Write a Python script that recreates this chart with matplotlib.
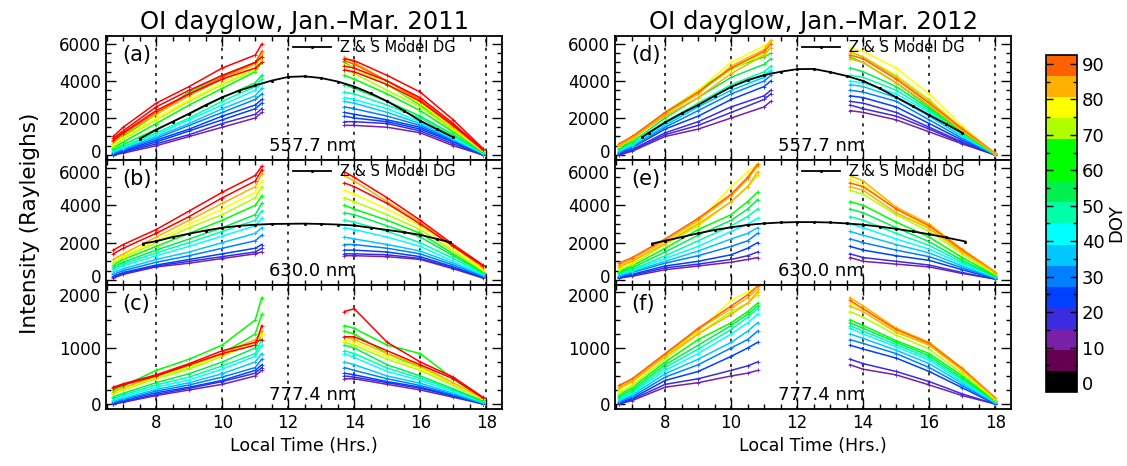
import numpy as np
import matplotlib.pyplot as plt
from matplotlib.colors import ListedColormap, BoundaryNorm
from matplotlib.cm import ScalarMappable
from matplotlib.ticker import MultipleLocator
from matplotlib.transforms import ScaledTranslation

# DOY colour table (16 bands, bottom to top) and out-of-range colour
BAND_COLORS = ['#000000', '#640050', '#7820A8', '#3C2CE0', '#0040FF', '#0080FF',
               '#00C8FF', '#00FFFF', '#00FFA8', '#00F050', '#00FF00', '#00FF00',
               '#B0FF00', '#FFFF00', '#FFB000', '#FF6000']
OVER_COLOR = '#FF0000'

# sample times (hours local time)
T11_AM = [6.7, 7.0, 8.0, 9.0, 10.0, 11.0, 11.2]
T11_PM = [13.7, 14.0, 15.0, 16.0, 17.0, 17.9]
T12_AM_D = [6.6, 7.0, 8.0, 9.0, 10.0, 11.0, 11.2]
T12_AM_EF = [6.6, 7.0, 8.0, 9.0, 10.0, 10.5, 10.8]
T12_PM = [13.6, 14.0, 15.0, 16.0, 17.0, 18.0]

# ---- panel (a) 2011, 557.7 nm
A_DOY = [12, 18, 24, 27, 30, 36, 42, 48, 54, 60, 65, 71, 77, 83, 89, 95, 95, 95]
A_AM = [[0, 100, 500, 1000, 1500, 2000, 2300],
        [0, 150, 600, 1100, 1700, 2200, 2500],
        [50, 200, 700, 1300, 1900, 2500, 2800],
        [80, 250, 800, 1400, 2100, 2700, 3000],
        [100, 300, 900, 1600, 2300, 3000, 3300],
        [150, 350, 1000, 1700, 2500, 3200, 3600],
        [200, 400, 1100, 1900, 2700, 3500, 3900],
        [250, 450, 1200, 2000, 2900, 3700, 4100],
        [300, 550, 1400, 2200, 3100, 3900, 4300],
        [400, 700, 1700, 2700, 3600, 4500, 5000],
        [600, 1000, 2200, 3400, 4300, 5000, 5500],
        [500, 850, 1900, 2900, 3800, 4600, 5100],
        [600, 950, 2000, 3000, 3900, 4700, 5200],
        [700, 1100, 2200, 3200, 4100, 4900, 5500],
        [750, 1150, 2300, 3300, 4200, 5000, 5600],
        [900, 1300, 2600, 3500, 4300, 5000, 5300],
        [1000, 1500, 2800, 3700, 4700, 5400, 6000],
        [800, 1200, 2400, 3300, 4100, 4700, 5000]]
A_PM = [[1600, 1600, 1500, 1200, 500, 0],
        [1800, 1800, 1700, 1300, 600, 0],
        [2100, 2000, 1800, 1400, 700, 0],
        [2300, 2200, 1900, 1500, 750, 50],
        [2600, 2500, 2100, 1600, 800, 50],
        [2900, 2800, 2300, 1700, 850, 80],
        [3100, 3000, 2500, 1800, 900, 100],
        [3400, 3300, 2700, 2000, 1000, 120],
        [3800, 3600, 2900, 2100, 1100, 150],
        [4300, 4100, 3300, 2400, 1250, 180],
        [5000, 4700, 3800, 2700, 1400, 200],
        [4600, 4400, 3500, 2600, 1350, 200],
        [4900, 4700, 3800, 2800, 1450, 220],
        [5300, 5000, 4000, 2900, 1500, 250],
        [5100, 4900, 4000, 3000, 1600, 250],
        [4800, 4700, 4000, 3100, 1700, 300],
        [5200, 5100, 4300, 3400, 1900, 350],
        [4600, 4500, 3800, 2900, 1600, 300]]

# ---- panel (b) 2011, 630.0 nm
B_DOY = [12, 18, 24, 30, 36, 42, 48, 54, 60, 71, 77, 83, 95, 95]
B_AM = [[100, 300, 700, 900, 1150, 1400, 1500],
        [150, 350, 750, 1000, 1250, 1500, 1700],
        [200, 400, 800, 1100, 1400, 1700, 1900],
        [300, 500, 950, 1300, 1700, 2100, 2400],
        [400, 600, 1100, 1500, 2000, 2500, 2800],
        [500, 750, 1300, 1800, 2350, 2900, 3300],
        [600, 850, 1450, 2000, 2600, 3200, 3700],
        [700, 950, 1600, 2200, 2800, 3500, 4100],
        [800, 1100, 1800, 2500, 3200, 4000, 4500],
        [900, 1200, 2000, 2800, 3500, 4400, 5000],
        [1000, 1300, 2100, 3000, 3800, 4700, 5300],
        [1100, 1400, 2300, 3200, 4100, 5000, 5700],
        [1400, 1700, 2500, 3400, 4400, 5300, 5900],
        [1600, 1900, 2700, 3700, 4700, 5600, 6100]]
B_PM = [[1300, 1300, 1250, 1100, 600, 100],
        [1400, 1400, 1350, 1150, 650, 150],
        [1600, 1600, 1500, 1250, 700, 150],
        [1900, 1900, 1700, 1400, 800, 200],
        [2300, 2200, 1900, 1550, 900, 250],
        [2800, 2700, 2300, 1800, 1000, 300],
        [3200, 3100, 2600, 2000, 1150, 350],
        [3600, 3500, 2900, 2300, 1300, 400],
        [4000, 3800, 3200, 2500, 1400, 450],
        [4400, 4200, 3500, 2700, 1550, 500],
        [4800, 4600, 3800, 2900, 1650, 550],
        [5600, 5300, 4200, 3100, 1800, 650],
        [5800, 5500, 4400, 3200, 1900, 800],
        [5200, 5000, 4100, 3000, 1800, 750]]

# ---- panel (c) 2011, 777.4 nm
C_DOY = [12, 18, 24, 30, 36, 42, 48, 54, 60, 65, 71, 77, 83, 95, 95]
C_AM = [[0, 30, 150, 250, 350, 500, 600],
        [0, 40, 170, 280, 400, 550, 650],
        [10, 60, 200, 300, 420, 600, 700],
        [30, 80, 230, 340, 480, 650, 800],
        [50, 100, 260, 380, 540, 750, 900],
        [70, 130, 300, 430, 620, 850, 1050],
        [100, 160, 340, 480, 680, 900, 1150],
        [130, 190, 380, 540, 750, 1000, 1250],
        [200, 270, 480, 650, 900, 1250, 1600],
        [250, 320, 600, 800, 1050, 1500, 1900],
        [180, 250, 450, 620, 850, 1100, 1250],
        [200, 270, 480, 660, 880, 1100, 1250],
        [220, 290, 500, 690, 900, 1150, 1300],
        [300, 360, 520, 720, 950, 1100, 1150],
        [280, 340, 500, 700, 900, 1050, 1400]]
C_PM = [[450, 450, 350, 250, 120, 0],
        [500, 480, 380, 280, 140, 0],
        [550, 520, 400, 300, 150, 0],
        [650, 600, 450, 330, 170, 10],
        [750, 700, 500, 370, 190, 20],
        [900, 830, 580, 420, 220, 30],
        [950, 900, 640, 460, 250, 40],
        [1050, 1000, 700, 500, 270, 50],
        [1300, 1250, 900, 650, 350, 70],
        [1400, 1350, 1050, 900, 450, 90],
        [1100, 1050, 800, 600, 330, 80],
        [1150, 1100, 850, 640, 360, 90],
        [1200, 1150, 900, 680, 380, 100],
        [1650, 1700, 1100, 750, 480, 120],
        [1200, 1200, 950, 700, 450, 110]]

# ---- panel (d) 2012, 557.7 nm
D_DOY = [12, 16, 20, 26, 31, 36, 42, 48, 54, 60, 71, 77, 83, 88, 85]
D_AM = [[0, 200, 1000, 1400, 2000, 2600, 2900],
        [0, 250, 1100, 1600, 2300, 3000, 3300],
        [50, 300, 1200, 1800, 2600, 3200, 3500],
        [100, 400, 1400, 2100, 3000, 3700, 4000],
        [150, 450, 1500, 2400, 3300, 4000, 4300],
        [200, 500, 1600, 2600, 3500, 4200, 4500],
        [250, 550, 1700, 2700, 3700, 4300, 4600],
        [300, 600, 1800, 2800, 3800, 4500, 4800],
        [350, 700, 2000, 3100, 4200, 4900, 5200],
        [400, 800, 2300, 3500, 4700, 5300, 5500],
        [450, 850, 2200, 3400, 4600, 5500, 5800],
        [500, 900, 2300, 3500, 5000, 5900, 6100],
        [550, 950, 2200, 3300, 4800, 5700, 6200],
        [600, 1000, 2300, 3400, 4700, 5600, 6000],
        [500, 900, 2100, 3100, 4400, 5400, 5800]]
D_PM = [[2400, 2300, 1900, 1250, 600, 0],
        [2700, 2500, 2100, 1400, 650, 0],
        [2900, 2800, 2300, 1500, 700, 0],
        [3200, 3100, 2600, 1700, 800, 0],
        [3500, 3400, 2900, 1900, 900, 10],
        [3800, 3700, 3100, 2100, 1000, 20],
        [4000, 3900, 3300, 2300, 1050, 30],
        [4300, 4200, 3500, 2400, 1100, 40],
        [4700, 4500, 3700, 2500, 1200, 50],
        [5300, 5000, 3900, 2600, 1250, 60],
        [5500, 5300, 4300, 3000, 1400, 70],
        [5800, 5600, 4700, 3300, 1550, 80],
        [5600, 5300, 4200, 2900, 1450, 90],
        [5400, 5200, 4100, 2800, 1400, 90],
        [5200, 5000, 3900, 2700, 1300, 80]]

# ---- panel (e) 2012, 630.0 nm
E_DOY = [12, 17, 22, 30, 36, 42, 48, 55, 62, 71, 77, 83, 88, 85]
E_AM = [[100, 200, 550, 750, 950, 1100, 1200],
        [100, 250, 650, 850, 1100, 1300, 1500],
        [150, 300, 750, 1000, 1350, 1700, 2000],
        [200, 400, 900, 1300, 1800, 2100, 2500],
        [250, 450, 1000, 1550, 2200, 2500, 2800],
        [300, 500, 1150, 1800, 2600, 3000, 3300],
        [350, 550, 1300, 2100, 2900, 3400, 3800],
        [400, 650, 1500, 2400, 3200, 3800, 4300],
        [450, 750, 1700, 2700, 3500, 4200, 4700],
        [550, 850, 1900, 2900, 4200, 5000, 5600],
        [650, 950, 2000, 3100, 5000, 5800, 6200],
        [800, 1100, 2100, 3200, 4500, 5400, 6100],
        [900, 1200, 2200, 3300, 4600, 5500, 6200],
        [700, 1000, 1950, 3000, 4200, 5000, 5800]]
E_PM = [[1200, 1000, 850, 700, 350, 50],
        [1400, 1200, 1000, 800, 400, 50],
        [1800, 1600, 1300, 1050, 550, 80],
        [2200, 2000, 1600, 1250, 650, 100],
        [2600, 2400, 1900, 1450, 750, 120],
        [3000, 2800, 2200, 1650, 850, 150],
        [3400, 3200, 2500, 1850, 950, 180],
        [3800, 3600, 2800, 2050, 1050, 200],
        [4200, 4000, 3100, 2300, 1200, 250],
        [4800, 4600, 3500, 2600, 1400, 300],
        [5400, 5100, 3800, 2800, 1500, 350],
        [5600, 5300, 3900, 3000, 1650, 450],
        [5200, 5000, 3800, 2900, 1600, 400],
        [5000, 4800, 3600, 2750, 1500, 400]]

# ---- panel (f) 2012, 777.4 nm
F_DOY = [12, 17, 22, 30, 36, 42, 48, 55, 62, 71, 77, 83, 88, 85]
F_AM = [[0, 60, 300, 380, 500, 550, 600],
        [0, 80, 350, 450, 600, 680, 750],
        [20, 100, 420, 580, 850, 1000, 1100],
        [40, 130, 480, 700, 1000, 1150, 1300],
        [60, 160, 540, 800, 1100, 1300, 1450],
        [80, 190, 600, 900, 1250, 1450, 1600],
        [100, 220, 650, 980, 1330, 1550, 1700],
        [130, 250, 700, 1050, 1400, 1600, 1750],
        [160, 290, 750, 1150, 1450, 1650, 1800],
        [200, 330, 800, 1250, 1650, 1800, 1950],
        [250, 380, 850, 1300, 1850, 2000, 2100],
        [300, 420, 880, 1330, 1700, 1900, 2050],
        [330, 450, 900, 1350, 1750, 1950, 2100],
        [280, 400, 850, 1250, 1600, 1800, 2000]]
F_PM = [[700, 620, 520, 340, 150, 0],
        [800, 720, 580, 400, 180, 0],
        [1050, 980, 820, 580, 290, 0],
        [1150, 1080, 900, 650, 330, 10],
        [1250, 1170, 960, 720, 370, 20],
        [1350, 1250, 1020, 780, 400, 30],
        [1400, 1300, 1060, 820, 430, 40],
        [1450, 1350, 1100, 860, 460, 50],
        [1500, 1400, 1130, 900, 500, 60],
        [1650, 1550, 1230, 980, 550, 70],
        [1800, 1700, 1300, 1050, 600, 90],
        [1900, 1750, 1350, 1100, 640, 110],
        [1850, 1700, 1330, 1080, 630, 110],
        [1750, 1650, 1280, 1050, 600, 100]]

# ---- Z & S model dayglow
MA_T = [7.5, 8, 8.5, 9, 9.5, 10, 10.5, 11, 11.5, 12, 12.5, 13, 13.5, 14, 14.5, 15, 15.5, 16, 16.5, 17]
MA_V = [880, 1360, 1800, 2240, 2700, 3120, 3470, 3760, 4020, 4220, 4250, 4160, 3970, 3700, 3330, 2900, 2400, 1850, 1400, 960]
MB_T = [7.6, 8, 8.5, 9, 9.5, 10, 10.5, 11, 11.5, 12, 12.5, 13, 13.5, 14, 14.5, 15, 15.5, 16, 16.5, 16.9]
MB_V = [1950, 2080, 2300, 2480, 2650, 2800, 2900, 2960, 3000, 3010, 3020, 3000, 2970, 2920, 2800, 2680, 2560, 2420, 2200, 2020]
MD_T = [7.3, 7.5, 8, 8.5, 9, 9.5, 10, 10.5, 11, 11.5, 12, 12.5, 13, 13.5, 14, 14.5, 15, 15.5, 16, 16.5, 17]
MD_V = [960, 1200, 1760, 2250, 2700, 3200, 3680, 4050, 4320, 4500, 4640, 4650, 4480, 4270, 4000, 3600, 3120, 2650, 2160, 1680, 1200]
ME_T = [7.6, 8, 8.5, 9, 9.5, 10, 10.5, 11, 11.5, 12, 12.5, 13, 13.5, 14, 14.5, 15, 15.5, 16, 16.5, 17.1]
ME_V = [1950, 2100, 2300, 2500, 2680, 2820, 2950, 3030, 3080, 3100, 3100, 3080, 3030, 2960, 2860, 2740, 2600, 2450, 2280, 2060]

cmap = ListedColormap(BAND_COLORS)
cmap.set_over(OVER_COLOR)
bounds = np.linspace(-2.5, 92.5, 17)
norm = BoundaryNorm(bounds, cmap.N)

plt.rcParams['font.family'] = 'DejaVu Sans'
fig = plt.figure(figsize=(11.27, 4.66), dpi=100)

xl, xr, w = 0.0941, 0.5457, 0.3514
rows = [(0.6567, 0.2660), (0.3884, 0.2683), (0.1223, 0.2661)]


def draw_panel(ax, t_am, t_pm, doys, am, pm, big, letter, wl, mt=None, mv=None, bottom=False):
    for d, a, p in zip(doys, am, pm):
        c = cmap(norm(d)) if d <= 92.5 else OVER_COLOR
        ax.plot(t_am, a, color=c, lw=1.1, marker='+', ms=2.5, mew=0.6)
        ax.plot(t_pm, p, color=c, lw=1.1, marker='+', ms=2.5, mew=0.6)
    if mt is not None:
        ax.plot(mt, mv, color='black', lw=1.3, marker='.', ms=2.5, label='Z & S Model DG')
        ax.legend(loc='upper left', bbox_to_anchor=(0.45, 1.04), frameon=False,
                  handlelength=2.6, handletextpad=0.6, fontsize=10.5, borderaxespad=0.2)
    for x in range(8, 19, 2):
        ax.axvline(x, color='black', lw=1.1, ls=(0, (2, 3.5)), zorder=0)
    ax.set_xlim(6.48, 18.48)
    if big:
        ax.set_ylim(-270, 6430)
        ax.yaxis.set_major_locator(MultipleLocator(2000))
        ax.yaxis.set_minor_locator(MultipleLocator(500))
    else:
        ax.set_ylim(-90, 2124)
        ax.yaxis.set_major_locator(MultipleLocator(1000))
        ax.yaxis.set_minor_locator(MultipleLocator(250))
    ax.xaxis.set_major_locator(MultipleLocator(2))
    ax.xaxis.set_minor_locator(MultipleLocator(0.5))
    ax.tick_params(which='both', direction='in', top=True, right=True, labelsize=12)
    ax.tick_params(which='major', length=7, width=1)
    ax.tick_params(which='minor', length=3.5, width=1)
    if not bottom:
        ax.tick_params(labelbottom=False)
    for s in ax.spines.values():
        s.set_linewidth(1.3)
    ax.text(0.04, 0.93, letter, transform=ax.transAxes, fontsize=15, va='top', ha='left')
    ax.text(0.52, 0.04, wl, transform=ax.transAxes, fontsize=13, va='bottom', ha='center')


panels = [
    (xl, 0, T11_AM, T11_PM, A_DOY, A_AM, A_PM, True, '(a)', '557.7 nm', MA_T, MA_V),
    (xl, 1, T11_AM, T11_PM, B_DOY, B_AM, B_PM, True, '(b)', '630.0 nm', MB_T, MB_V),
    (xl, 2, T11_AM, T11_PM, C_DOY, C_AM, C_PM, False, '(c)', '777.4 nm', None, None),
    (xr, 0, T12_AM_D, T12_PM, D_DOY, D_AM, D_PM, True, '(d)', '557.7 nm', MD_T, MD_V),
    (xr, 1, T12_AM_EF, T12_PM, E_DOY, E_AM, E_PM, True, '(e)', '630.0 nm', ME_T, ME_V),
    (xr, 2, T12_AM_EF, T12_PM, F_DOY, F_AM, F_PM, False, '(f)', '777.4 nm', None, None),
]
axes = []
for x0, r, ta, tp, dy, am, pm, big, let, wl, mt, mv in panels:
    y0, h = rows[r]
    ax = fig.add_axes([x0, y0, w, h])
    draw_panel(ax, ta, tp, dy, am, pm, big, let, wl, mt, mv, bottom=(r == 2))
    if r == 0:
        yr = '2011' if x0 == xl else '2012'
        ax.set_title('OI dayglow, Jan.\u2013Mar. ' + yr, fontsize=17.5, pad=5)
    if r == 2:
        ax.set_xlabel('Local Time (Hrs.)', fontsize=12.5, labelpad=4)
    axes.append((ax, r))

fig.text(0.027, 0.52, 'Intensity (Rayleighs)', rotation=90, fontsize=15.5, va='center', ha='center')

cax = fig.add_axes([0.9281, 0.1588, 0.0275, 0.7232])
cb = fig.colorbar(ScalarMappable(norm=norm, cmap=cmap), cax=cax, ticks=range(0, 91, 10))
cb.outline.set_linewidth(1.2)
cax.set_ylim(-2.5, 92.5)
cax.yaxis.set_minor_locator(MultipleLocator(5))
cax.tick_params(which='both', direction='in', left=True, right=True, labelsize=13, width=1)
cax.tick_params(which='major', length=5)
cax.tick_params(which='minor', length=3)
cb.set_label('DOY', fontsize=13, labelpad=2)

# nudge stacked edge labels apart so the "0" and the top value don't collide
fig.canvas.draw()
up = ScaledTranslation(0, 0.035, fig.dpi_scale_trans)
down = ScaledTranslation(0, -0.035, fig.dpi_scale_trans)
for ax, r in axes:
    for tick in ax.yaxis.get_major_ticks():
        v = tick.get_loc()
        if r < 2 and abs(v) < 1e-6:
            tick.label1.set_transform(tick.label1.get_transform() + up)
        if r > 0 and abs(v - ax.get_ylim()[1] // 1000 * 1000) < 1e-6:
            tick.label1.set_transform(tick.label1.get_transform() + down)

fig.savefig('out.png', dpi=100)
